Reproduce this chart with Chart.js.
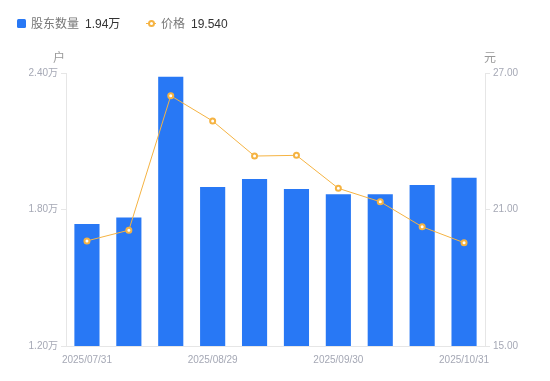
<!DOCTYPE html>
<html><head><meta charset="utf-8">
<script src="https://cdn.jsdelivr.net/npm/chart.js@4.4.0/dist/chart.umd.min.js"></script>
<style>
html,body{margin:0;padding:0;background:#fff;}
#wrap{position:relative;width:550px;height:381px;font-family:"Liberation Sans","Noto Sans CJK SC",sans-serif;}
canvas{position:absolute;left:0;top:0;}
.lg{position:absolute;top:16px;font-size:12px;line-height:16px;white-space:nowrap;}
.lbl{color:#777;}
.val{color:#333;margin-left:6px;}
.unit{position:absolute;font-size:12px;color:#999;line-height:14px;}
</style></head>
<body>
<div id="wrap">
<canvas id="c" width="550" height="381"></canvas>
<div class="lg" style="left:17px;"><span style="display:inline-block;width:9px;height:9px;background:#2878f5;border-radius:1.5px;vertical-align:-0px;margin-right:5px;"></span><span class="lbl">股东数量</span><span class="val">1.94万</span></div>
<div class="lg" style="left:146px;"><span style="display:inline-block;position:relative;width:10px;height:9px;margin-right:5px;"><span style="position:absolute;left:0;top:4px;width:10px;height:1px;background:#f5b342;"></span><span style="position:absolute;left:2px;top:1px;width:3px;height:3px;border:2px solid #f5b342;border-radius:50%;background:#fff;"></span></span><span class="lbl">价格</span><span class="val">19.540</span></div>
<div class="unit" style="left:53px;top:51px;">户</div>
<div class="unit" style="left:484px;top:51px;">元</div>
</div>
<script>
const categories = ["2025/07/31","2025/08/10","2025/08/20","2025/08/29","2025/09/10","2025/09/19","2025/09/30","2025/10/10","2025/10/20","2025/10/31"];
const holders = [1.736, 1.765, 2.384, 1.899, 1.934, 1.890, 1.867, 1.867, 1.908, 1.94];
const prices = [19.62, 20.09, 26.00, 24.89, 23.35, 23.38, 21.93, 21.34, 20.24, 19.54];
const shownXLabels = [0, 3, 6, 9];
const leftTicks = [1.2, 1.8, 2.4];
const rightTicks = [15, 21, 27];

const tickColor = '#a5a8b5';
const axisColor = '#e6e6e6';
const tickFont = {size:10, family:'"Liberation Sans","Noto Sans CJK SC",sans-serif'};

new Chart(document.getElementById('c'), {
  data: {
    labels: categories,
    datasets: [
      {type:'line', data: prices, yAxisID:'y1', borderColor:'#f5b342', borderWidth:1, pointRadius:2.5, pointBorderWidth:2, pointBackgroundColor:'#fff', pointBorderColor:'#f5b342', tension:0, order:0},
      {type:'bar', data: holders, yAxisID:'y', backgroundColor:'#2878f5', barPercentage:0.6, categoryPercentage:1.0, order:1}
    ]
  },
  options: {
    responsive:false, animation:false,
    layout:{padding:{top:73,left:0,right:0,bottom:0}},
    plugins:{legend:{display:false}, tooltip:{enabled:false}},
    scales:{
      x:{
        grid:{display:false},
        border:{display:true,color:axisColor},
        ticks:{autoSkip:false,maxRotation:0,color:tickColor,font:tickFont,padding:0,
          callback:(v,i)=> shownXLabels.includes(i) ? categories[i] : ''},
        afterFit:s=>{s.height=35;}
      },
      y:{
        position:'left', min:1.2, max:2.4,
        afterBuildTicks:s=>{s.ticks = leftTicks.map(v=>({value:v}));},
        grid:{drawOnChartArea:false,color:axisColor,tickLength:5},
        border:{display:true,color:axisColor},
        ticks:{color:tickColor,font:tickFont,padding:3,callback:v=>v.toFixed(2)+'万'},
        afterFit:s=>{s.width=66;}
      },
      y1:{
        position:'right', min:15, max:27,
        afterBuildTicks:s=>{s.ticks = rightTicks.map(v=>({value:v}));},
        grid:{drawOnChartArea:false,color:axisColor,tickLength:5},
        border:{display:true,color:axisColor},
        ticks:{color:tickColor,font:tickFont,padding:3,callback:v=>v.toFixed(2)},
        afterFit:s=>{s.width=65;}
      }
    }
  }
});
</script>
</body></html>
